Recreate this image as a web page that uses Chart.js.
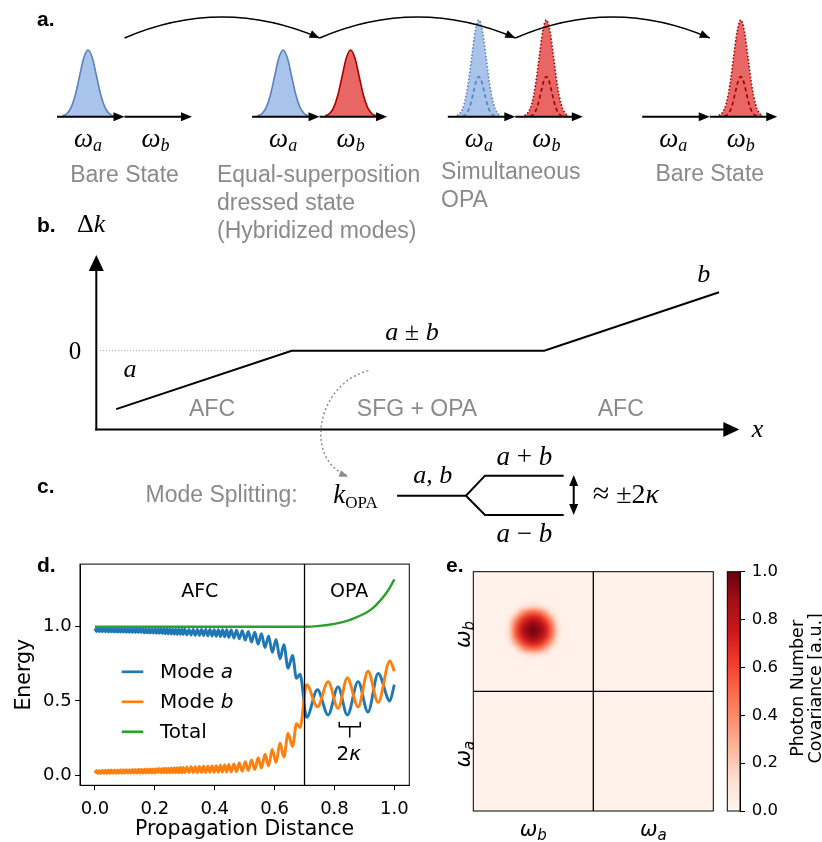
<!DOCTYPE html>
<html>
<head>
<meta charset="utf-8">
<script src="https://cdn.jsdelivr.net/npm/chart.js@4.4.1/dist/chart.umd.min.js"></script>
<style>
  html, body { margin: 0; padding: 0; background: #fff; }
  #page { position: relative; width: 822px; height: 842px; overflow: hidden; }
  canvas { position: absolute; }
</style>
</head>
<body>
<div id="page">
  <canvas id="panelA" width="822" height="250" style="left:0px;top:0px"></canvas>
  <canvas id="panelBC" width="822" height="335" style="left:0px;top:215px"></canvas>
  <canvas id="panelD" width="420" height="292" style="left:0px;top:550px"></canvas>
  <canvas id="panelE" width="402" height="292" style="left:420px;top:550px"></canvas>
  <canvas id="colorbar" width="122" height="292" style="left:700px;top:550px"></canvas>
</div>
<script>
// ---------- panel d: energy along the propagation distance ----------
// extrema of the fast oscillation
const distance = [
  // AFC, dense beating
  0.000, 0.005, 0.010, 0.015, 0.020, 0.025, 0.030, 0.035, 0.040, 0.045,
  0.050, 0.055, 0.060, 0.065, 0.070, 0.075, 0.080, 0.085, 0.090, 0.095,
  0.100, 0.105, 0.110, 0.115, 0.120, 0.125, 0.130, 0.135, 0.140, 0.145,
  0.150, 0.155, 0.160, 0.165, 0.170, 0.175, 0.180, 0.185, 0.190, 0.195,
  0.200, 0.205, 0.210, 0.215, 0.220, 0.225, 0.230, 0.235, 0.240, 0.245,
  0.250, 0.255, 0.260, 0.265, 0.270, 0.275, 0.280, 0.285, 0.290, 0.295,
  0.300,
  0.307, 0.314, 0.321, 0.328, 0.335, 0.342, 0.349, 0.356, 0.363, 0.370,
  0.377, 0.384, 0.391, 0.398, 0.405, 0.412, 0.419, 0.426, 0.433, 0.440,
  0.447,
  0.455, 0.464, 0.473, 0.482, 0.492, 0.502, 0.512, 0.523, 0.534, 0.545,
  0.556, 0.568, 0.580, 0.592, 0.605, 0.618, 0.631, 0.645, 0.660, 0.673,
  0.685, 0.707,
  // OPA
  0.743, 0.779, 0.812, 0.843, 0.879, 0.912, 0.946, 0.985, 1.000
];
const modeA = [
  0.989, 0.968, 0.989, 0.968, 0.989, 0.967, 0.989, 0.967, 0.989, 0.966,
  0.989, 0.966, 0.988, 0.965, 0.988, 0.965, 0.988, 0.964, 0.988, 0.964,
  0.988, 0.963, 0.987, 0.963, 0.987, 0.962, 0.987, 0.962, 0.987, 0.961,
  0.987, 0.961, 0.986, 0.960, 0.986, 0.959, 0.986, 0.958, 0.986, 0.958,
  0.986, 0.957, 0.985, 0.956, 0.985, 0.955, 0.985, 0.954, 0.985, 0.953,
  0.985, 0.952, 0.984, 0.951, 0.984, 0.950, 0.984, 0.949, 0.984, 0.948,
  0.984,
  0.946, 0.983, 0.944, 0.983, 0.943, 0.983, 0.942, 0.982, 0.941, 0.982,
  0.940, 0.982, 0.938, 0.981, 0.936, 0.981, 0.934, 0.980, 0.932, 0.980,
  0.929,
  0.979, 0.925, 0.977, 0.919, 0.974, 0.910, 0.969, 0.898, 0.963, 0.882,
  0.953, 0.860, 0.938, 0.828, 0.915, 0.784, 0.879, 0.720, 0.806, 0.653,
  0.680, 0.390,
  0.575, 0.405, 0.595, 0.405, 0.630, 0.425, 0.685, 0.500, 0.610
];
const modeB = [
  0.011, 0.032, 0.011, 0.032, 0.011, 0.033, 0.011, 0.033, 0.011, 0.034,
  0.011, 0.034, 0.012, 0.035, 0.012, 0.035, 0.012, 0.036, 0.012, 0.036,
  0.012, 0.037, 0.013, 0.037, 0.013, 0.038, 0.013, 0.038, 0.013, 0.039,
  0.013, 0.039, 0.014, 0.040, 0.014, 0.041, 0.014, 0.042, 0.014, 0.042,
  0.014, 0.043, 0.015, 0.044, 0.015, 0.045, 0.015, 0.046, 0.015, 0.047,
  0.015, 0.048, 0.016, 0.049, 0.016, 0.050, 0.016, 0.051, 0.016, 0.052,
  0.016,
  0.054, 0.017, 0.056, 0.017, 0.057, 0.017, 0.058, 0.018, 0.059, 0.018,
  0.060, 0.018, 0.062, 0.019, 0.064, 0.019, 0.066, 0.020, 0.068, 0.020,
  0.071,
  0.021, 0.075, 0.023, 0.081, 0.026, 0.090, 0.031, 0.102, 0.037, 0.118,
  0.047, 0.140, 0.062, 0.172, 0.085, 0.216, 0.121, 0.280, 0.194, 0.347,
  0.320, 0.610,
  0.460, 0.630, 0.450, 0.655, 0.460, 0.700, 0.490, 0.770, 0.700
];
const totalX = [0, 0.70, 0.75, 0.80, 0.85, 0.88, 0.91, 0.93, 0.95, 0.97, 0.985, 1.0];
const totalY = [1.0, 1.0, 1.006, 1.02, 1.045, 1.07, 1.10, 1.13, 1.17, 1.22, 1.265, 1.32];
const opaStart = 0.7;
const kappaBracket = [0.816, 0.886];
const distanceTicks = [0, 0.2, 0.4, 0.6, 0.8, 1.0];
const energyTicks = [0, 0.5, 1.0];

// ---------- panel e: photon number covariance ----------
const covBackground = 0.02;
const covCoreCenter = [0.5, 0.49];   // inside the (omega_b, omega_b) block
const covCoreStep = 0.05;
const covCore = [
  [0.02, 0.02, 0.02, 0.02, 0.025, 0.028, 0.025, 0.02, 0.02, 0.02, 0.02],
  [0.02, 0.02, 0.03, 0.07, 0.13, 0.16, 0.13, 0.07, 0.03, 0.02, 0.02],
  [0.02, 0.03, 0.11, 0.32, 0.48, 0.52, 0.48, 0.32, 0.11, 0.03, 0.02],
  [0.02, 0.07, 0.32, 0.57, 0.71, 0.77, 0.71, 0.57, 0.32, 0.07, 0.02],
  [0.025, 0.13, 0.48, 0.71, 0.87, 0.92, 0.87, 0.71, 0.48, 0.13, 0.025],
  [0.028, 0.16, 0.52, 0.77, 0.92, 0.97, 0.92, 0.77, 0.52, 0.16, 0.028],
  [0.025, 0.13, 0.48, 0.71, 0.87, 0.92, 0.87, 0.71, 0.48, 0.13, 0.025],
  [0.02, 0.07, 0.32, 0.57, 0.71, 0.77, 0.71, 0.57, 0.32, 0.07, 0.02],
  [0.02, 0.03, 0.11, 0.32, 0.48, 0.52, 0.48, 0.32, 0.11, 0.03, 0.02],
  [0.02, 0.02, 0.03, 0.07, 0.13, 0.16, 0.13, 0.07, 0.03, 0.02, 0.02],
  [0.02, 0.02, 0.02, 0.02, 0.025, 0.028, 0.025, 0.02, 0.02, 0.02, 0.02]
];
const colorbarTicks = [0, 0.2, 0.4, 0.6, 0.8, 1.0];
const colorbarTitle = ['Photon Number', 'Covariance [a.u.]'];
const redsStops = [
  [0, '#fff5f0'], [0.125, '#fee0d2'], [0.25, '#fcbba1'], [0.375, '#fc9272'],
  [0.5, '#fb6a4a'], [0.625, '#ef3b2c'], [0.75, '#cb181d'], [0.875, '#a50f15'], [1, '#67000d']
];

// ---------- panel a: spectra of the four states ----------
const pulseOffsets = [-3, -2.5, -2, -1.5, -1, -0.5, 0, 0.5, 1, 1.5, 2, 2.5, 3];
const pulseShape = [0.011, 0.044, 0.135, 0.325, 0.607, 0.882, 1, 0.882, 0.607, 0.325, 0.135, 0.044, 0.011];
const modeNames = ['a', 'b'];
const stateStarts = [0, 2.89, 5.79, 8.67];
const statePulses = [
  [{mode: 0, height: 1, width: 0.126}],
  [{mode: 0, height: 1, width: 0.126}, {mode: 1, height: 1, width: 0.126}],
  [{mode: 0, height: 1.45, width: 0.108, inner: 0.6}, {mode: 1, height: 1.45, width: 0.108, inner: 0.6}],
  [{mode: 1, height: 1.45, width: 0.108, inner: 0.6}]
];
const stateCaptions = [
  ['Bare State'],
  ['Equal-superposition', 'dressed state', '(Hybridized modes)'],
  ['Simultaneous', 'OPA'],
  ['Bare State']
];

// ---------- panel b / c: phase mismatch sketch ----------
const dkPosition = [0.031, 0.304, 0.697, 0.969];
const dkValue = [-1, 0, 0, 1];
const splitUpperX = [0.468, 0.5752, 0.6048, 0.7272];
const splitUpperY = [-2.483, -2.483, -2.140, -2.140];
const splitLowerX = [0.5752, 0.6048, 0.7272];
const splitLowerY = [-2.483, -2.813, -2.813];

// ---------- helpers ----------
Chart.defaults.font.family = "'DejaVu Sans', sans-serif";
Chart.defaults.color = '#000';
Chart.defaults.animation = false;
Chart.defaults.events = [];
Chart.defaults.plugins.legend.display = false;
Chart.defaults.plugins.tooltip.enabled = false;

const BOLD = s => `bold ${s}px 'Liberation Sans', Arial, sans-serif`;
const SANS = s => `${s}px 'Liberation Sans', Arial, sans-serif`;
const SERIF = s => `${s}px 'Liberation Serif', serif`;
const SERIF_I = s => `italic ${s}px 'Liberation Serif', serif`;
const DV = s => `${s}px 'DejaVu Sans', sans-serif`;
const DV_I = s => `italic ${s}px 'DejaVu Sans', sans-serif`;
const GRAY = '#8a8a8a';

const pts = (xs, ys) => xs.map((x, i) => ({x, y: ys[i]}));

function drawRuns(ctx, parts, x, y, align, color) {
  ctx.save();
  let w = 0;
  parts.forEach(p => { ctx.font = p[1]; w += ctx.measureText(p[0]).width; });
  let cx = align === 'center' ? x - w / 2 : align === 'right' ? x - w : x;
  ctx.fillStyle = color || '#000';
  ctx.textAlign = 'left';
  ctx.textBaseline = 'alphabetic';
  parts.forEach(p => {
    ctx.font = p[1];
    ctx.fillText(p[0], cx, y + (p[2] || 0));
    cx += ctx.measureText(p[0]).width;
  });
  ctx.restore();
}

function arrowHead(ctx, x, y, ang, len, wid, color) {
  ctx.save();
  ctx.translate(x, y);
  ctx.rotate(ang);
  ctx.beginPath();
  ctx.moveTo(0, 0);
  ctx.lineTo(-len, -wid / 2);
  ctx.lineTo(-len, wid / 2);
  ctx.closePath();
  ctx.fillStyle = color;
  ctx.fill();
  ctx.restore();
}

function arrowLine(ctx, x0, y0, x1, y1, lw, len, wid, color) {
  const ang = Math.atan2(y1 - y0, x1 - x0);
  ctx.save();
  ctx.strokeStyle = color;
  ctx.lineWidth = lw;
  ctx.beginPath();
  ctx.moveTo(x0, y0);
  ctx.lineTo(x1 - Math.cos(ang) * len * 0.8, y1 - Math.sin(ang) * len * 0.8);
  ctx.stroke();
  ctx.restore();
  arrowHead(ctx, x1, y1, ang, len, wid, color);
}

function hexRgb(h) {
  return [parseInt(h.slice(1, 3), 16), parseInt(h.slice(3, 5), 16), parseInt(h.slice(5, 7), 16)];
}
function redsRgb(v) {
  for (let i = 1; i < redsStops.length; i++) {
    if (v <= redsStops[i][0]) {
      const [t0, c0] = redsStops[i - 1], [t1, c1] = redsStops[i];
      const f = (v - t0) / (t1 - t0), a = hexRgb(c0), b = hexRgb(c1);
      return a.map((c, k) => Math.round(c + (b[k] - c) * f));
    }
  }
  return hexRgb(redsStops[redsStops.length - 1][1]);
}

// ---------- panel a ----------
const pulseColors = [
  {fill: 'rgb(168,196,234)', line: 'rgb(92,128,192)'},
  {fill: 'rgb(232,102,99)', line: 'rgb(170,0,0)'}
];
const panelADatasets = [];
statePulses.forEach((pulses, s) => pulses.forEach(p => {
  const c = stateStarts[s] + p.mode + 0.46;
  const col = pulseColors[p.mode];
  panelADatasets.push({
    data: pulseOffsets.map((o, i) => ({x: c + o * p.width, y: pulseShape[i] * p.height})),
    showLine: true, fill: 'origin', backgroundColor: col.fill, borderColor: col.line,
    borderWidth: 1.6, borderDash: p.inner ? [1.5, 2] : [], pointRadius: 0,
    cubicInterpolationMode: 'monotone', order: 1
  });
  if (p.inner) {
    panelADatasets.push({
      data: pulseOffsets.map((o, i) => ({x: c + o * p.width * 0.75, y: pulseShape[i] * p.inner})),
      showLine: true, fill: false, borderColor: col.line, borderWidth: 1.7,
      borderDash: [4, 3], pointRadius: 0, cubicInterpolationMode: 'monotone', order: 0
    });
  }
}));

const captionLayout = [
  {dx: 1.0, y: -0.972, align: 'center'},
  {dx: -0.52, y: -0.972, align: 'left'},
  {dx: -0.10, y: -0.927, align: 'left'},
  {dx: 1.0, y: -0.964, align: 'center'}
];

const panelAPlugin = {
  id: 'panelA',
  afterDatasetsDraw(chart) {
    const {ctx, scales: {x, y}} = chart;
    const X = v => x.getPixelForValue(v), Y = v => y.getPixelForValue(v);
    stateStarts.forEach((s, k) => {
      [0, 1].forEach(m => {
        arrowLine(ctx, X(s + m), Y(0), X(s + m + 1), Y(0), 2, 11, 9, '#000');
        drawRuns(ctx, [['ω', SERIF_I(27)], [modeNames[m], SERIF_I(18), 4]], X(s + m + 0.46), Y(-0.45), 'center');
      });
      const lay = captionLayout[k];
      stateCaptions[k].forEach((line, i) => {
        drawRuns(ctx, [[line, SANS(23)]], X(s + lay.dx), Y(lay.y) + i * 28.2, lay.align, GRAY);
      });
    });
    for (let k = 0; k < stateStarts.length - 1; k++) {
      const x0 = X(stateStarts[k] + 1), x1 = X(stateStarts[k + 1] + 1);
      const y0 = Y(1.18), yc = Y(1.81), xc = (x0 + x1) / 2;
      ctx.save();
      ctx.strokeStyle = '#000';
      ctx.lineWidth = 1.5;
      ctx.beginPath();
      ctx.moveTo(x0, y0);
      ctx.quadraticCurveTo(xc, yc, x1, y0);
      ctx.stroke();
      ctx.restore();
      arrowHead(ctx, x1, y0, Math.atan2(y0 - yc, x1 - xc), 10, 8, '#000');
    }
    drawRuns(ctx, [['a.', BOLD(21)]], X(-0.296), Y(1.36), 'left');
  }
};

new Chart(document.getElementById('panelA'), {
  type: 'scatter',
  data: {datasets: panelADatasets},
  options: {
    responsive: false, devicePixelRatio: 1,
    layout: {padding: 0},
    scales: {
      x: {display: false, min: -0.8444, max: 11.3333},
      y: {display: false, min: -1.9985, max: 1.7496}
    }
  },
  plugins: [panelAPlugin]
});

// ---------- panel b / c ----------
const panelBCPlugin = {
  id: 'panelBC',
  afterDatasetsDraw(chart) {
    const {ctx, scales: {x, y}} = chart;
    const X = v => x.getPixelForValue(v), Y = v => y.getPixelForValue(v);
    // axes
    arrowLine(ctx, X(0), Y(-1.349) + 1, X(0), Y(1.639), 2, 16, 15, '#000');
    arrowLine(ctx, X(0) - 1, Y(-1.349), X(1.0005), Y(-1.349), 2, 16, 15, '#000');
    // dotted pointer from b to c
    ctx.save();
    ctx.strokeStyle = '#8c8c8c';
    ctx.lineWidth = 1.5;
    ctx.setLineDash([2, 2.5]);
    ctx.beginPath();
    ctx.moveTo(X(0.4233), Y(-0.341));
    ctx.bezierCurveTo(X(0.3403), Y(-0.587), X(0.3247), Y(-1.872), X(0.389), Y(-2.13));
    ctx.stroke();
    ctx.restore();
    arrowHead(ctx, X(0.392), Y(-2.157), Math.atan2(Y(-2.157) - Y(-1.872), X(0.392) - X(0.3247)), 9, 7, '#8c8c8c');
    // double arrow 2 kappa
    const xa = X(0.7428), ya = Y(-2.128), yb = Y(-2.813);
    ctx.save();
    ctx.strokeStyle = '#000';
    ctx.lineWidth = 2;
    ctx.beginPath();
    ctx.moveTo(xa, ya + 8);
    ctx.lineTo(xa, yb - 8);
    ctx.stroke();
    ctx.restore();
    arrowHead(ctx, xa, ya, -Math.PI / 2, 11, 9, '#000');
    arrowHead(ctx, xa, yb, Math.PI / 2, 11, 9, '#000');
    // text
    drawRuns(ctx, [['b.', BOLD(21)]], X(-0.0923), Y(2.038), 'left');
    drawRuns(ctx, [['Δ', SERIF(26)], ['k', SERIF_I(26)]], X(-0.03), Y(2.038), 'left');
    drawRuns(ctx, [['0', SERIF(25)]], X(-0.033), Y(-0.147), 'center');
    drawRuns(ctx, [['a', SERIF_I(26)]], X(0.0524), Y(-0.455), 'center');
    drawRuns(ctx, [['a', SERIF_I(26)], [' ± ', SERIF(26)], ['b', SERIF_I(26)]], X(0.4912), Y(0.183), 'center');
    drawRuns(ctx, [['b', SERIF_I(26)]], X(0.945), Y(1.181), 'center');
    drawRuns(ctx, [['x', SERIF_I(26)]], X(1.029), Y(-1.473), 'center');
    drawRuns(ctx, [['AFC', SANS(23)]], X(0.18), Y(-1.118), 'center', GRAY);
    drawRuns(ctx, [['SFG + OPA', SANS(23)]], X(0.499), Y(-1.118), 'center', GRAY);
    drawRuns(ctx, [['AFC', SANS(23)]], X(0.816), Y(-1.118), 'center', GRAY);
    drawRuns(ctx, [['c.', BOLD(21)]], X(-0.0923), Y(-2.442), 'left');
    drawRuns(ctx, [['Mode Splitting:', SANS(23)]], X(0.195), Y(-2.586), 'center', GRAY);
    drawRuns(ctx, [['k', SERIF_I(27)], ['OPA', SERIF(17), 5]], X(0.3688), Y(-2.613), 'left');
    drawRuns(ctx, [['a', SERIF_I(26)], [', ', SERIF(26)], ['b', SERIF_I(26)]], X(0.5234), Y(-2.271), 'center');
    drawRuns(ctx, [['a', SERIF_I(27)], [' + ', SERIF(27)], ['b', SERIF_I(27)]], X(0.666), Y(-1.957), 'center');
    drawRuns(ctx, [['a', SERIF_I(27)], [' − ', SERIF(27)], ['b', SERIF_I(27)]], X(0.666), Y(-3.276), 'center');
    drawRuns(ctx, [['≈', SERIF(30)], [' ±2', SERIF(28)], ['κ', SERIF_I(28)]], X(0.7724), Y(-2.613), 'left');
  }
};

new Chart(document.getElementById('panelBC'), {
  type: 'scatter',
  data: {
    datasets: [
      {data: pts(dkPosition, dkValue), showLine: true, borderColor: '#000', borderWidth: 2, pointRadius: 0},
      {data: pts([0.006, dkPosition[1]], [0, 0]), showLine: true, borderColor: '#999', borderWidth: 1, borderDash: [1, 2], pointRadius: 0},
      {data: pts(splitUpperX, splitUpperY), showLine: true, borderColor: '#000', borderWidth: 2, pointRadius: 0},
      {data: pts(splitLowerX, splitLowerY), showLine: true, borderColor: '#000', borderWidth: 2, pointRadius: 0}
    ]
  },
  options: {
    responsive: false, devicePixelRatio: 1,
    layout: {padding: 0},
    scales: {
      x: {display: false, min: -0.14984, max: 1.12914},
      y: {display: false, min: -3.4127, max: 2.3236}
    }
  },
  plugins: [panelBCPlugin]
});

// ---------- panel d ----------
const panelDPlugin = {
  id: 'panelD',
  afterDatasetsDraw(chart) {
    const {ctx, chartArea: a, scales: {x, y}} = chart;
    const X = v => x.getPixelForValue(v), Y = v => y.getPixelForValue(v);
    ctx.save();
    ctx.strokeStyle = '#000';
    ctx.lineWidth = 1.3;
    ctx.beginPath();
    ctx.moveTo(X(opaStart), a.top);
    ctx.lineTo(X(opaStart), a.bottom);
    ctx.stroke();
    ctx.lineWidth = 1;
    ctx.strokeRect(a.left, a.top, a.right - a.left, a.bottom - a.top);
    // region names
    drawRuns(ctx, [['AFC', DV(19)]], X(0.35), Y(1.202), 'center');
    drawRuns(ctx, [['OPA', DV(19)]], X(0.849), Y(1.202), 'center');
    // legend
    chart.data.datasets.forEach((ds, i) => {
      const yy = a.top + 107.7 + 30 * i;
      ctx.strokeStyle = ds.borderColor;
      ctx.lineWidth = 2.7;
      ctx.beginPath();
      ctx.moveTo(a.left + 41.7, yy);
      ctx.lineTo(a.left + 63.3, yy);
      ctx.stroke();
      const words = ds.label.split(' ');
      const last = words[words.length - 1];
      const parts = last.length === 1
        ? [[words.slice(0, -1).join(' ') + ' ', DV(20)], [last, DV_I(20)]]
        : [[ds.label, DV(20)]];
      drawRuns(ctx, parts, a.left + 80, yy + 6.6, 'left');
    });
    // 2 kappa bracket
    const bx0 = X(kappaBracket[0]), bx1 = X(kappaBracket[1]), bm = (bx0 + bx1) / 2;
    const yb = Y(0.326), yt = Y(0.36), ys = Y(0.254);
    ctx.strokeStyle = '#000';
    ctx.lineWidth = 1.5;
    ctx.beginPath();
    ctx.moveTo(bx0, yt); ctx.lineTo(bx0, yb); ctx.lineTo(bx1, yb); ctx.lineTo(bx1, yt);
    ctx.moveTo(bm, yb); ctx.lineTo(bm, ys);
    ctx.stroke();
    drawRuns(ctx, [['2', DV(20)], ['κ', DV_I(20)]], bm - 1, Y(0.101), 'center');
    drawRuns(ctx, [['d.', BOLD(21)]], 37, 21.7, 'left');
    ctx.restore();
  }
};

new Chart(document.getElementById('panelD'), {
  type: 'scatter',
  data: {
    datasets: [
      {label: 'Mode a', data: pts(distance, modeA), showLine: true, borderColor: '#1f77b4', borderWidth: 2.9,
       pointRadius: 0, cubicInterpolationMode: 'monotone', order: 2},
      {label: 'Mode b', data: pts(distance, modeB), showLine: true, borderColor: '#ff7f0e', borderWidth: 2.9,
       pointRadius: 0, cubicInterpolationMode: 'monotone', order: 1},
      {label: 'Total', data: pts(totalX, totalY), showLine: true, borderColor: '#2ca02c', borderWidth: 2.4,
       pointRadius: 0, cubicInterpolationMode: 'monotone', order: 0}
    ]
  },
  options: {
    responsive: false, devicePixelRatio: 1,
    layout: {padding: {top: 14, right: 10.7, left: 0, bottom: 0}},
    scales: {
      x: {
        type: 'linear', min: -0.05, max: 1.05,
        afterBuildTicks: s => { s.ticks = distanceTicks.map(v => ({value: v})); },
        afterFit: s => { s.height = 56.7; },
        ticks: {callback: v => Number(v).toFixed(1), font: {size: 18}, padding: 8, maxRotation: 0, autoSkip: false, color: '#000'},
        grid: {display: true, drawOnChartArea: false, tickLength: 5, color: '#000'},
        border: {display: true, color: '#000', width: 1},
        title: {display: true, text: 'Propagation Distance', font: {size: 20.5, lineHeight: 1.2}, color: '#000', padding: {top: 0, bottom: 0}}
      },
      y: {
        type: 'linear', min: -0.069, max: 1.423,
        afterBuildTicks: s => { s.ticks = energyTicks.map(v => ({value: v})); },
        afterFit: s => { s.width = 80; },
        ticks: {callback: v => Number(v).toFixed(1), font: {size: 18}, padding: 3.3, color: '#000'},
        grid: {display: true, drawOnChartArea: false, tickLength: 5, color: '#000'},
        border: {display: true, color: '#000', width: 1},
        title: {display: true, text: 'Energy', font: {size: 20.5, lineHeight: 1.2}, color: '#000', padding: {top: 12.3, bottom: 0}}
      }
    }
  },
  plugins: [panelDPlugin]
});

// ---------- panel e ----------
const heatmapPlugin = {
  id: 'heatmap',
  beforeDatasetsDraw(chart) {
    const {ctx, chartArea: a, scales: {x, y}} = chart;
    ctx.save();
    ctx.fillStyle = 'rgb(' + redsRgb(covBackground).join(',') + ')';
    ctx.fillRect(a.left, a.top, a.right - a.left, a.bottom - a.top);
    const n = covCore.length;
    const off = document.createElement('canvas');
    off.width = n; off.height = n;
    const octx = off.getContext('2d');
    const img = octx.createImageData(n, n);
    covCore.forEach((row, r) => row.forEach((v, c) => {
      const rgb = redsRgb(v), k = (r * n + c) * 4;
      img.data[k] = rgb[0]; img.data[k + 1] = rgb[1]; img.data[k + 2] = rgb[2]; img.data[k + 3] = 255;
    }));
    octx.putImageData(img, 0, 0);
    const half = n * covCoreStep / 2;
    const x0 = x.getPixelForValue(covCoreCenter[0] - half), x1 = x.getPixelForValue(covCoreCenter[0] + half);
    const y0 = y.getPixelForValue(covCoreCenter[1] - half), y1 = y.getPixelForValue(covCoreCenter[1] + half);
    ctx.imageSmoothingEnabled = true;
    ctx.imageSmoothingQuality = 'high';
    ctx.drawImage(off, Math.min(x0, x1), Math.min(y0, y1), Math.abs(x1 - x0), Math.abs(y1 - y0));
    ctx.restore();
  },
  afterDatasetsDraw(chart) {
    const {ctx, chartArea: a, scales: {x, y}} = chart;
    ctx.save();
    ctx.strokeStyle = '#000';
    ctx.lineWidth = 1.3;
    ctx.beginPath();
    ctx.moveTo(x.getPixelForValue(1), a.top); ctx.lineTo(x.getPixelForValue(1), a.bottom);
    ctx.moveTo(a.left, y.getPixelForValue(1)); ctx.lineTo(a.right, y.getPixelForValue(1));
    ctx.stroke();
    ctx.lineWidth = 1;
    ctx.strokeRect(a.left, a.top, a.right - a.left, a.bottom - a.top);
    const blocks = ['b', 'a'];
    blocks.forEach((m, i) => {
      drawRuns(ctx, [['ω', DV_I(21)], [m, DV_I(15), 4]], x.getPixelForValue(i + 0.5), a.bottom + 25, 'center');
      ctx.save();
      ctx.translate(50, y.getPixelForValue(i + 0.5) + 3);
      ctx.rotate(-Math.PI / 2);
      drawRuns(ctx, [['ω', DV_I(21)], [m, DV_I(15), 4]], 0, 0, 'center');
      ctx.restore();
    });
    drawRuns(ctx, [['e.', BOLD(21)]], 26, 21.7, 'left');
    ctx.restore();
  }
};

new Chart(document.getElementById('panelE'), {
  type: 'scatter',
  data: {datasets: []},
  options: {
    responsive: false, devicePixelRatio: 1,
    layout: {padding: {left: 53.3, right: 108.7, top: 21.7, bottom: 31}},
    scales: {
      x: {display: false, min: 0, max: 2},
      y: {display: false, min: 0, max: 2, reverse: true}
    }
  },
  plugins: [heatmapPlugin]
});

// ---------- colorbar ----------
const colorbarPlugin = {
  id: 'colorbarFrame',
  afterDatasetsDraw(chart) {
    const {ctx, chartArea: a} = chart;
    ctx.save();
    ctx.strokeStyle = '#000';
    ctx.lineWidth = 1;
    ctx.strokeRect(a.left, a.top, a.right - a.left, a.bottom - a.top);
    const cy = (a.top + a.bottom) / 2;
    colorbarTitle.forEach((line, i) => {
      ctx.save();
      ctx.translate(103.3 + 18 * i, cy - 3);
      ctx.rotate(-Math.PI / 2);
      drawRuns(ctx, [[line, DV(17.5)]], 0, 0, 'center');
      ctx.restore();
    });
    ctx.restore();
  }
};

new Chart(document.getElementById('colorbar'), {
  type: 'bar',
  data: {
    labels: ['covariance'],
    datasets: [{
      data: [[0, 1]],
      barPercentage: 1, categoryPercentage: 1, borderWidth: 0,
      backgroundColor: c => {
        const {ctx, chartArea} = c.chart;
        if (!chartArea) return '#fff';
        const g = ctx.createLinearGradient(0, chartArea.bottom, 0, chartArea.top);
        redsStops.forEach(([t, col]) => g.addColorStop(t, col));
        return g;
      }
    }]
  },
  options: {
    responsive: false, devicePixelRatio: 1,
    layout: {padding: {left: 27.3, right: 0, top: 21.7, bottom: 31}},
    scales: {
      x: {display: false},
      y: {
        position: 'right', min: 0, max: 1,
        afterBuildTicks: s => { s.ticks = colorbarTicks.map(v => ({value: v})); },
        afterFit: s => { s.width = 82; },
        ticks: {callback: v => Number(v).toFixed(1), font: {size: 16.5}, padding: 6.7, color: '#000'},
        grid: {display: true, drawOnChartArea: false, tickLength: 5, color: '#000'},
        border: {display: true, color: '#000', width: 1}
      }
    }
  },
  plugins: [colorbarPlugin]
});
</script>
</body>
</html>
